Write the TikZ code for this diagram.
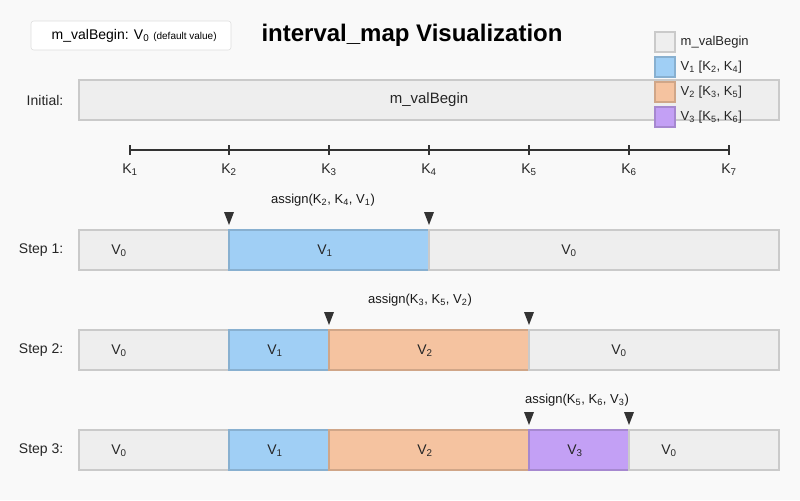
\documentclass[tikz,border=0pt]{standalone}
\usepackage{fontspec}
\setmainfont{Liberation Sans}
\definecolor{pagebg}{HTML}{F9F9F9}
\definecolor{defaultfill}{HTML}{EEEEEE}
\definecolor{vonefill}{HTML}{A0CFF5}
\definecolor{vtwofill}{HTML}{F5C3A0}
\definecolor{vthreefill}{HTML}{C3A0F5}
\definecolor{axisline}{HTML}{333333}
\definecolor{legendline}{HTML}{DDDDDD}
\NewDocumentCommand\sub{m}{\textsubscript{#1}}
\NewDocumentCommand\markdown{mm}{\fill[axisline] (#1-5,#2-13) -- (#1+5,#2-13) -- (#1,#2) -- cycle;}
\tikzset{
  seg/.style={draw=#1!85!black, fill=#1, line width=0.9pt},
  vallabel/.style={font=\fontsize{10.5}{12}\selectfont, text=black!85},
  steplabel/.style={anchor=east, font=\fontsize{10.5}{12}\selectfont, text=black!85},
  assignlabel/.style={font=\fontsize{9.75}{11}\selectfont, text=black!90},
  legendtext/.style={anchor=west, font=\fontsize{9.75}{11}\selectfont, text=black!85}
}

\begin{document}
\begin{tikzpicture}[x=0.75pt, y=-0.75pt]
      \fill[pagebg] (0,0) rectangle (800,500);
      \useasboundingbox (0,0) rectangle (800,500);

      % default value box and title
      \draw[fill=white, draw=legendline, rounded corners=2pt] (31,21) rectangle (231,50);
      \node[anchor=west, font=\fontsize{10.5}{12}\selectfont] (deflegend) at (47,36)
        {m\_valBegin: V\sub{0} {\fontsize{7.5}{9}\selectfont(default value)}};
      \node[font=\bfseries\fontsize{18}{20}\selectfont] (title) at (412,35) {interval\_map Visualization};

      % initial state
      \node[steplabel] (initial) at (68,100) {Initial:};
      \draw[seg=defaultfill] (79,80) rectangle (779,120);
      \node[font=\fontsize{11.25}{13}\selectfont, text=black!85] (initval) at (429,100) {m\_valBegin};

      % legend
      \foreach \col/\txt [count=\i] in {defaultfill/{m\_valBegin},
          vonefill/{V\sub{1} [K\sub{2}, K\sub{4}]},
          vtwofill/{V\sub{2} [K\sub{3}, K\sub{5}]},
          vthreefill/{V\sub{3} [K\sub{5}, K\sub{6}]}} {
        \draw[seg=\col] (655,{32+25*(\i-1)}) rectangle (675,{52+25*(\i-1)});
        \node[legendtext] (leg\i) at (676,{42+25*(\i-1)}) {\txt};
      }

      % key axis
      \draw[axisline, line width=1.5pt] (130,150) -- (729,150);
      \foreach \k/\x in {1/130,2/229,3/329,4/429,5/529,6/629,7/729} {
        \draw[axisline, line width=1.5pt] (\x,145) -- (\x,155);
        \node[vallabel] (k\k) at (\x,170) {K\sub{\k}};
      }

      % step 1
      \node[steplabel] (step1) at (68,250) {Step 1:};
      \foreach \xa/\xb/\col/\val/\dx [count=\i] in {79/229/defaultfill/0/-35,
          229/429/vonefill/1/-4, 429/779/defaultfill/0/-35} {
        \draw[seg=\col] (\xa,230) rectangle (\xb,270);
        \node[vallabel] (sa\i) at ({(\xa+\xb)/2+\dx},251) {V\sub{\val}};
      }
      \markdown{229}{225}
      \markdown{429}{225}
      \node[assignlabel] (assign1) at (323,200) {assign(K\sub{2}, K\sub{4}, V\sub{1})};

      % step 2
      \node[steplabel] (step2) at (68,350) {Step 2:};
      \foreach \xa/\xb/\col/\val/\dx [count=\i] in {79/229/defaultfill/0/-35,
          229/329/vonefill/1/-4, 329/529/vtwofill/2/-4, 529/779/defaultfill/0/-35} {
        \draw[seg=\col] (\xa,330) rectangle (\xb,370);
        \node[vallabel] (sb\i) at ({(\xa+\xb)/2+\dx},351) {V\sub{\val}};
      }
      \markdown{329}{325}
      \markdown{529}{325}
      \node[assignlabel] (assign2) at (420,300) {assign(K\sub{3}, K\sub{5}, V\sub{2})};

      % step 3
      \node[steplabel] (step3) at (68,450) {Step 3:};
      \foreach \xa/\xb/\col/\val/\dx [count=\i] in {79/229/defaultfill/0/-35,
          229/329/vonefill/1/-4, 329/529/vtwofill/2/-4, 529/629/vthreefill/3/-4,
          629/779/defaultfill/0/-35} {
        \draw[seg=\col] (\xa,430) rectangle (\xb,470);
        \node[vallabel] (sc\i) at ({(\xa+\xb)/2+\dx},451) {V\sub{\val}};
      }
      \markdown{529}{425}
      \markdown{629}{425}
      \node[assignlabel] (assign3) at (577,400) {assign(K\sub{5}, K\sub{6}, V\sub{3})};
    \end{tikzpicture}
\end{document}
